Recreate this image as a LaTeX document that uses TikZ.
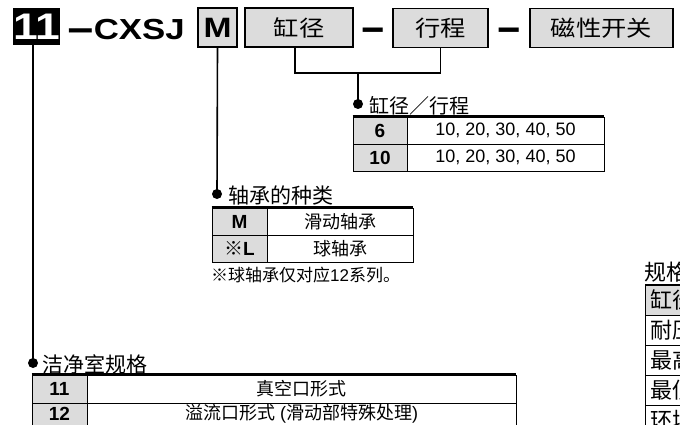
\documentclass[tikz,border=0pt]{standalone}
\usepackage{fontspec}
\setmainfont{Liberation Sans}
\newfontfamily\cjk{Noto Sans CJK SC}
\newfontfamily\hdrfont[FakeStretch=1.2]{Liberation Sans}
\newfontfamily\hdrcjk[FakeStretch=1.15]{Noto Sans CJK SC}
\definecolor{cellgray}{RGB}{220,220,220}
\newcommand\fsz[1]{\fontsize{#1}{#1}\selectfont}
\tikzset{
  hbox/.style={draw, line width=1.3pt, fill=cellgray, inner sep=0pt, minimum height=39pt, font=\fsz{22}\hdrcjk},
  conn/.style={line width=1.6pt},
  bigdot/.style={circle, fill=black, inner sep=0pt, minimum size=10pt},
  lbl/.style={anchor=west, inner sep=0pt, font=\fsz{20}\cjk},
  cell/.style={draw, line width=0.8pt, inner sep=0pt, font=\fsz{18}},
  gcell/.style={cell, fill=cellgray, font=\fsz{19}\bfseries},
  topline/.style={line width=2.4pt},
  dashtxt/.style={anchor=base, inner sep=0pt, font=\fsz{40}\bfseries},
  rcell/.style={draw, line width=0.8pt, inner sep=0pt, minimum width=200pt, minimum height=30pt, anchor=north west}
}
\begin{document}
\begin{tikzpicture}[x=1pt,y=-1pt]
\useasboundingbox (0,0) rectangle (680,425);
\clip (0,0) rectangle (680,425);
\fill[white] (0,0) rectangle (680,425);

% header
\node[fill=black, text=white, inner sep=0pt, minimum width=47pt, minimum height=37pt,
      font=\fsz{37}\hdrfont\bfseries] (n11) at (36.5,26.5) {11};
\node[anchor=base west, inner sep=0pt, font=\fsz{29}\hdrfont\bfseries] (model) at (67,40) {\raisebox{-4pt}{\fsz{38}\bfseries −}CXSJ};
\node[hbox, minimum width=39pt, font=\fsz{28}\hdrfont\bfseries] (mbox) at (217.5,27.5) {M};
\node[hbox, minimum width=108pt] (bore) at (299,27.5) {缸径};
\node[dashtxt] (dash1) at (373.5,44) {−};
\node[hbox, minimum width=95pt] (stroke) at (440.5,28) {行程};
\node[dashtxt] (dash2) at (509.5,44) {−};
\node[hbox, minimum width=143pt] (switch) at (601.5,28) {磁性开关};

% bore / stroke connector
\coordinate (j1) at (358,73);
\node[bigdot] (d1) at (358,104) {};
\draw[conn] ([xshift=-4pt]bore.south) |- (j1) -| (stroke.south);
\draw[conn] (j1) -- (d1.center);
\node[lbl] (l1) at (369,106) {缸径／行程};

% table 1
\node[gcell, minimum width=54pt, minimum height=27pt] (t1a) at (380,130.5) {6};
\node[cell, minimum width=197pt, minimum height=27pt] (t1b) at (505.5,130.5) {10, 20, 30, 40, 50};
\node[gcell, minimum width=54pt, minimum height=27pt] (t1c) at (380,157.5) {10};
\node[cell, minimum width=197pt, minimum height=27pt] (t1d) at (505.5,157.5) {10, 20, 30, 40, 50};
\draw[topline] (t1a.north west) -- (t1b.north east);

% bearing connector
\node[bigdot] (d2) at (217,194) {};
\draw[conn] (mbox.south) -- (d2.center);
\node[lbl, font=\fsz{21}\cjk] (l2) at (228,195) {轴承的种类};

% table 2
\node[gcell, minimum width=55pt, minimum height=27pt] (t2a) at (239.5,221.5) {M};
\node[cell, minimum width=146pt, minimum height=27pt] (t2b) at (340,221.5) {\cjk 滑动轴承};
\node[gcell, minimum width=55pt, minimum height=27pt] (t2c) at (239.5,248.5) {{\cjk ※}L};
\node[cell, minimum width=146pt, minimum height=27pt] (t2d) at (340,248.5) {\cjk 球轴承};
\draw[topline] (t2a.north west) -- (t2b.north east);
\node[anchor=west, inner sep=0pt, font=\fsz{17}] (note) at (211,275) {{\cjk ※球轴承仅对应}12{\cjk 系列。}};

% clean room connector
\node[bigdot] (d3) at (33,363) {};
\draw[conn] (d3.center) -- (d3.center |- n11.south);
\node[lbl, font=\fsz{21}\cjk] (l3) at (42,364) {洁净室规格};

% table 3
\node[gcell, minimum width=55pt, minimum height=28pt] (t3a) at (59.5,389) {11};
\node[cell, minimum width=429pt, minimum height=28pt] (t3b) at (301.5,389) {\cjk 真空口形式};
\node[cell, fill=cellgray, minimum width=55pt, minimum height=28pt] (t3c) at (59.5,417) {};
\node[cell, minimum width=429pt, minimum height=28pt] (t3d) at (301.5,417) {};
\node[inner sep=0pt, font=\fsz{19}\bfseries] (t3ct) at (59.5,414) {12};
\node[inner sep=0pt, font=\fsz{18}] (t3dt) at (301.5,414) {{\cjk 溢流口形式} ({\cjk 滑动部特殊处理})};
\draw[topline] (t3a.north west) -- (t3b.north east);

% specifications table (cut off at the right edge)
\node[anchor=west, inner sep=0pt, font=\fsz{22}\cjk] (spec) at (644,272) {规格};
\node[rcell, fill=cellgray] (r1) at (645,285) {};
\node[rcell] (r2) at (645,315) {};
\node[rcell] (r3) at (645,345) {};
\node[rcell] (r4) at (645,375) {};
\node[rcell] (r5) at (645,405) {};
\draw[topline] (r1.north west) -- (r1.north east);
\tikzset{rtxt/.style={anchor=west, inner sep=0pt, font=\fsz{22}\cjk}}
\node[rtxt] (r1t) at ([xshift=5pt]r1.west) {缸径};
\node[rtxt] (r2t) at ([xshift=5pt]r2.west) {耐压};
\node[rtxt] (r3t) at ([xshift=5pt]r3.west) {最高};
\node[rtxt] (r4t) at ([xshift=5pt]r4.west) {最低};
\node[rtxt] (r5t) at ([xshift=5pt]r5.west) {环境};
\end{tikzpicture}
\end{document}
